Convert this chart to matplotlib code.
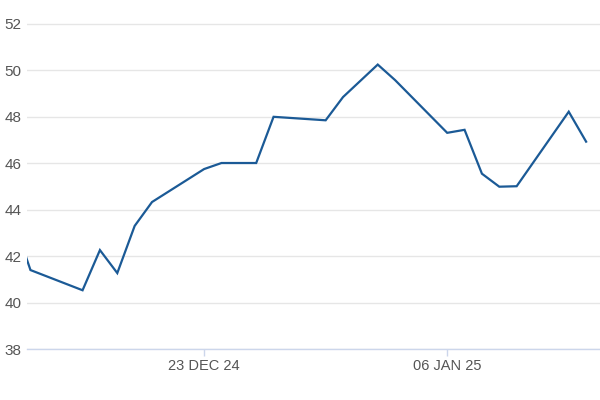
import matplotlib
matplotlib.use("Agg")
import matplotlib.pyplot as plt
import matplotlib.dates as mdates
import numpy as np
from datetime import datetime

# daily closes (trading days only)
dates = ["2024-12-12", "2024-12-13", "2024-12-16", "2024-12-17", "2024-12-18",
         "2024-12-19", "2024-12-20", "2024-12-23", "2024-12-24", "2024-12-26",
         "2024-12-27", "2024-12-30", "2024-12-31", "2025-01-02", "2025-01-03",
         "2025-01-06", "2025-01-07", "2025-01-08", "2025-01-09", "2025-01-10",
         "2025-01-13", "2025-01-14"]
prices = [43.6, 41.40, 40.53, 42.26, 41.27, 43.30, 44.33, 45.75, 46.01, 46.01,
          48.00, 47.85, 48.85, 50.25, 49.58, 47.31, 47.44, 45.55, 44.99, 45.01,
          48.22, 46.93]
tick_dates = ["2024-12-23", "2025-01-06"]
tick_labels = ["23 DEC 24", "06 JAN 25"]
y_ticks = [38, 40, 42, 44, 46, 48, 50, 52]

plt.rcParams['font.family'] = ['Liberation Sans', 'DejaVu Sans']

x = mdates.date2num([datetime.strptime(d, "%Y-%m-%d") for d in dates])
xt = mdates.date2num([datetime.strptime(d, "%Y-%m-%d") for d in tick_dates])

fig = plt.figure(figsize=(6, 4), dpi=100)
ax = fig.add_axes([0.045, 0.1275, 0.955, 0.8475])

ax.plot(x, prices, color="#1b5a96", linewidth=1.6, solid_joinstyle="miter")

ax.set_xlim(xt[0] - 10.2, xt[0] + 22.8)
ax.set_ylim(38, 52.6)

ax.set_yticks(y_ticks)
ax.set_yticklabels([str(v) for v in y_ticks])
ax.set_xticks(xt)
ax.set_xticklabels(tick_labels)

ax.grid(axis="y", color="#e6e6e6", linewidth=1)
ax.set_axisbelow(True)
for s in ["top", "right", "left"]:
    ax.spines[s].set_visible(False)
ax.spines["bottom"].set_color("#ccd6eb")
ax.spines["bottom"].set_linewidth(1)

ax.tick_params(axis="y", length=0, pad=4, labelsize=11, labelcolor="#555555")
ax.tick_params(axis="x", length=5, width=1, color="#ccd6eb", pad=2,
               labelsize=10.5, labelcolor="#555555")

fig.savefig("out.png", dpi=100)
